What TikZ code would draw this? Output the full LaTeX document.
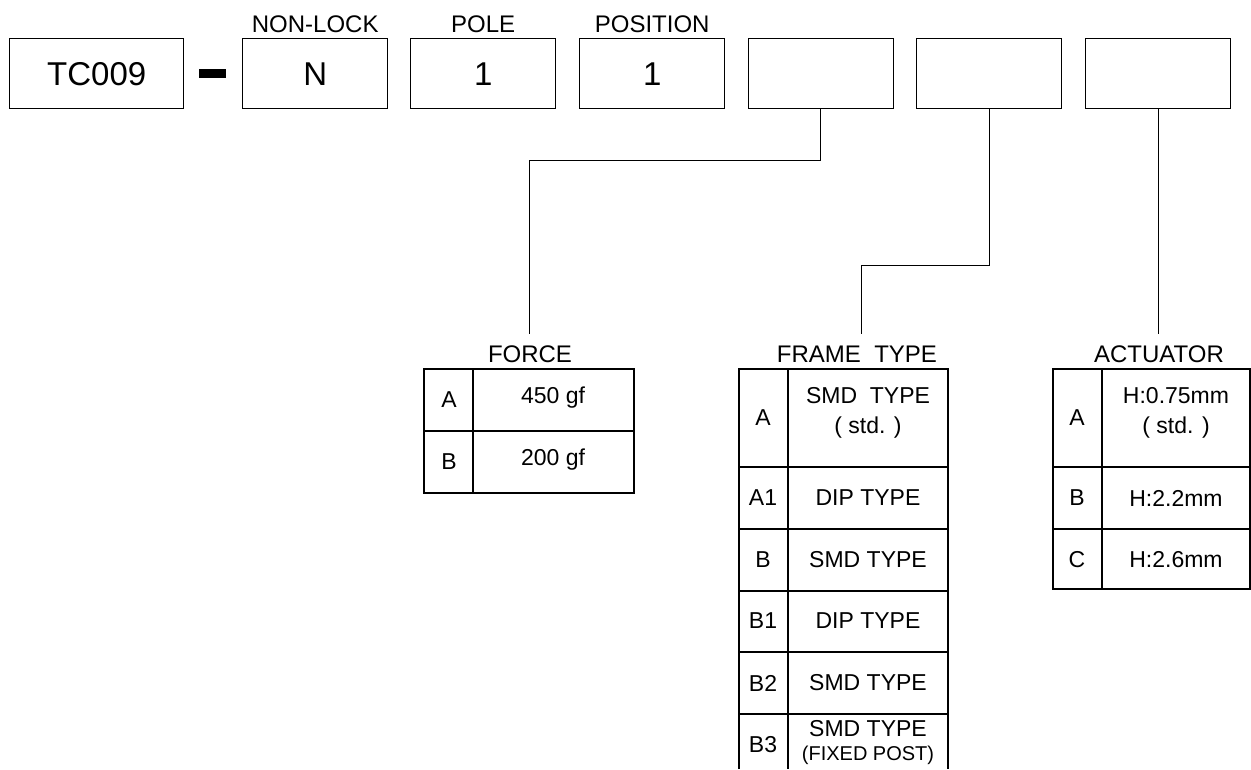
\documentclass[tikz,border=0pt]{standalone}
\usepackage{fontspec}
\setmainfont{Liberation Sans}
\begin{document}
\begin{tikzpicture}[x=1pt,y=-1pt,
  topbox/.style={draw,line width=1.4pt,minimum width=145pt,minimum height=70pt,inner sep=0pt,anchor=north west,font=\fontsize{33}{36}\selectfont},
  lbl/.style={inner sep=2pt,font=\fontsize{24}{26}\selectfont},
  cell/.style={inner sep=0pt,align=center,font=\fontsize{23}{30}\selectfont},
  small/.style={inner sep=0pt,font=\fontsize{20}{22}\selectfont},
  grid/.style={line width=1.1pt},
  conn/.style={line width=1pt}]
\useasboundingbox (0,0) rectangle (1251,769);
% top boxes
\node[topbox,minimum width=174pt] (b1) at (9,38) {TC009};
\fill (199,69) rectangle (226,78);
\node[topbox] (b2) at (242,38) {N};
\node[topbox] (b3) at (410,38) {1};
\node[topbox] (b4) at (579,38) {1};
\node[topbox] (b5) at (748,38) {};
\node[topbox] (b6) at (916,38) {};
\node[topbox] (b7) at (1085,38) {};
\node[lbl,anchor=base] (l2) at (b2.north |- 0,32) {NON-LOCK};
\node[lbl,anchor=base] (l3) at (b3.north |- 0,32) {POLE};
\node[lbl,anchor=base] (l4) at (b4.north |- 0,32) {POSITION};
% table labels
\node[lbl,anchor=base] (fl) at (530,362) {FORCE};
\node[lbl,anchor=base] (frl) at (857,362) {FRAME\ \ TYPE};
\node[lbl,anchor=base] (al) at (1159,362) {ACTUATOR};
% connectors
\coordinate (k1) at (529,160);
\coordinate (k2) at (861,265);
\draw[conn] (b5.south -| 820,0) |- (k1) -- (529,334);
\draw[conn] (b6.south -| 989,0) |- (k2) -- (861,334);
\draw[conn] (b7.south -| 1158,0) -- (1158,334);
% FORCE table
\draw[grid] (424,369) rectangle (634,493);
\draw[grid] (424,431) -- (634,431);
\draw[grid] (473,369) -- (473,493);
\node[cell] (fa) at (449,400) {A};
\node[cell] (fav) at (553,398) {450 gf};
\node[cell] (fb) at (449,462) {B};
\node[cell] (fbv) at (553,460) {200 gf};
% FRAME TYPE table
\draw[grid] (739,769) -- (739,369) -- (948,369) -- (948,769);
\draw[grid] (788,369) -- (788,769);
\foreach \yy in {467,529,591,652,714} \draw[grid] (739,\yy) -- (948,\yy);
\node[cell] (ta) at (763,418) {A};
\node[cell] (tav) at (868,413) {SMD\ \ TYPE\\( std. )};
\node[cell] (ta1) at (763,498) {A1};
\node[cell] (ta1v) at (868,498) {DIP TYPE};
\node[cell] (tb) at (763,560) {B};
\node[cell] (tbv) at (868,560) {SMD TYPE};
\node[cell] (tb1) at (763,621) {B1};
\node[cell] (tb1v) at (868,621) {DIP TYPE};
\node[cell] (tb2) at (763,683) {B2};
\node[cell] (tb2v) at (868,683) {SMD TYPE};
\node[cell] (tb3) at (763,745) {B3};
\node[cell] (tb3v) at (868,729) {SMD TYPE};
\node[small] (tb3w) at (868,755) {(FIXED POST)};
% ACTUATOR table
\draw[grid] (1053,369) rectangle (1250,589);
\draw[grid] (1053,467) -- (1250,467);
\draw[grid] (1053,529) -- (1250,529);
\draw[grid] (1102,369) -- (1102,589);
\node[cell] (aa) at (1077,418) {A};
\node[cell] (aav) at (1176,413) {H:0.75mm\\( std. )};
\node[cell] (ab) at (1077,498) {B};
\node[cell] (abv) at (1176,498) {H:2.2mm};
\node[cell] (ac) at (1077,560) {C};
\node[cell] (acv) at (1176,560) {H:2.6mm};
\end{tikzpicture}
\end{document}
